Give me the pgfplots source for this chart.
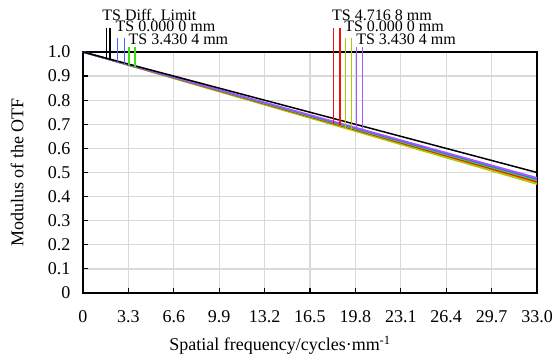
\documentclass[border=0pt]{standalone}
\usepackage{pgfplots}
\pgfplotsset{compat=1.18}
\usepackage{fontspec}
\setmainfont{Liberation Serif}
\definecolor{mtfblue}{HTML}{4466FF}
\definecolor{mtfgreen}{HTML}{44DD11}
\definecolor{mtfred}{HTML}{EE1111}
\definecolor{mtfyg}{HTML}{AACC00}
\definecolor{mtfpur}{HTML}{AA55FF}
\definecolor{mtforange}{HTML}{E89020}
\definecolor{mtfgrid}{HTML}{D9D9D9}
\begin{document}
\begin{tikzpicture}
\begin{axis}[
  scale only axis, width=454pt, height=241pt,
  xmin=0, xmax=33, ymin=0, ymax=1,
  xtick={0,3.3,6.6,9.9,13.2,16.5,19.8,23.1,26.4,29.7,33},
  xticklabels={0,3.3,6.6,9.9,13.2,16.5,19.8,23.1,26.4,29.7,33.0},
  ytick={0,0.1,...,1.0},
  yticklabels={0,0.1,0.2,0.3,0.4,0.5,0.6,0.7,0.8,0.9,1.0},
  tick align=inside, xtick pos=bottom, ytick pos=left,
  major tick length=5pt,
  tick style={black, line width=1.2pt},
  grid=major, grid style={mtfgrid, line width=1.3pt},
  axis line style={black, line width=1.3pt},
  /pgf/number format/assume math mode=true,
  tick label style={font=\fontsize{18}{20}\selectfont},
  yticklabel style={xshift=-9pt},
  xticklabel style={yshift=-14pt},
  every axis y label/.style={at={(axis description cs:-0.145,0.5)}, rotate=90, anchor=center, font=\fontsize{18}{20}\selectfont},
  every axis x label/.style={at={(axis description cs:0.434,-0.216)}, anchor=center, font=\fontsize{18}{20}\selectfont},
  xlabel={Spatial frequency/cycles·mm\textsuperscript{-1}},
  ylabel={Modulus of the OTF},
  clip=false,
  every axis plot/.append style={line width=1.5pt},
]
% MTF curves
\addplot[mtforange] coordinates {(0,1) (33,0.457)};
\addplot[mtfyg] coordinates {(0,1) (33,0.452)};
\addplot[mtfred] coordinates {(0,1) (33,0.462)};
\addplot[mtfgreen] coordinates {(0,1) (33,0.467)};
\addplot[mtfblue] coordinates {(0,1) (33,0.472)};
\addplot[mtfpur] coordinates {(0,1) (33,0.478)};
\addplot[black] coordinates {(0,1) (33,0.500)};
% field markers, left group
\addplot[black, line width=1.3pt] coordinates {(1.73,1.10) (1.73,0.974)};
\addplot[black, line width=1.3pt] coordinates {(1.97,1.10) (1.97,0.970)};
\addplot[mtfblue, line width=1.3pt] coordinates {(2.53,1.058) (2.53,0.960)};
\addplot[mtfblue, line width=1.3pt] coordinates {(3.01,1.058) (3.01,0.952)};
\addplot[mtfgreen, line width=1.3pt] coordinates {(3.35,1.021) (3.35,0.946)};
\addplot[mtfgreen, line width=1.3pt] coordinates {(3.79,1.021) (3.79,0.939)};
% field markers, right group
\addplot[mtfred, line width=1.3pt] coordinates {(18.23,1.10) (18.23,0.703)};
\addplot[mtfred, line width=1.3pt] coordinates {(18.67,1.10) (18.67,0.696)};
\addplot[mtfyg, line width=1.3pt] coordinates {(19.09,1.058) (19.09,0.683)};
\addplot[mtfyg, line width=1.3pt] coordinates {(19.52,1.058) (19.52,0.676)};
\addplot[mtfpur, line width=1.3pt] coordinates {(19.89,1.021) (19.89,0.685)};
\addplot[mtfpur, line width=1.3pt] coordinates {(20.30,1.021) (20.30,0.679)};
% labels
\node[anchor=west, inner sep=0pt, font=\fontsize{16}{17}\selectfont] at (axis cs:1.40,1.152) {TS Diff. Limit};
\node[anchor=west, inner sep=0pt, font=\fontsize{16}{17}\selectfont] at (axis cs:2.36,1.105) {TS 0.000 0 mm};
\node[anchor=west, inner sep=0pt, font=\fontsize{16}{17}\selectfont] at (axis cs:3.30,1.052) {TS 3.430 4 mm};
\node[anchor=west, inner sep=0pt, font=\fontsize{16}{17}\selectfont] at (axis cs:18.10,1.152) {TS 4.716 8 mm};
\node[anchor=west, inner sep=0pt, font=\fontsize{16}{17}\selectfont] at (axis cs:18.98,1.105) {TS 0.000 0 mm};
\node[anchor=west, inner sep=0pt, font=\fontsize{16}{17}\selectfont] at (axis cs:19.85,1.052) {TS 3.430 4 mm};
\coordinate (sw) at (rel axis cs:0,0);
\coordinate (ne) at (rel axis cs:1,1);
\end{axis}
\pgfresetboundingbox
\path[use as bounding box] ([xshift=-83pt,yshift=-68pt]sw) rectangle ([xshift=20pt,yshift=52pt]ne);
\end{tikzpicture}
\end{document}
